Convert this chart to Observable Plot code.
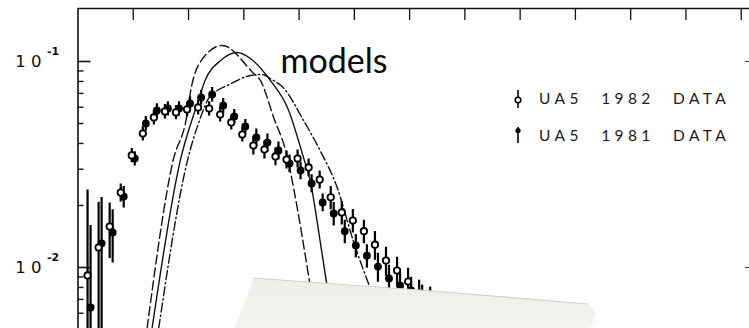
<!DOCTYPE html>
<html><head><meta charset="utf-8">
<script src="https://cdn.jsdelivr.net/npm/d3@7"></script>
<script src="https://cdn.jsdelivr.net/npm/@observablehq/plot@0.6"></script>
<style>
html,body{margin:0;padding:0;background:#fff;}
#wrap{position:relative;width:749px;height:328px;overflow:hidden;background:#fff;}
#wrap svg.plot{position:absolute;left:0;top:0;}
.lbl10{letter-spacing:0.32em;}
#legend{position:absolute;left:510px;top:88px;font-family:Lato,"Open Sans",sans-serif;font-weight:400;font-size:15.5px;color:#1a1a1a;}
#legend .row{position:absolute;left:0;white-space:nowrap;height:22px;}
#legend .row span{position:absolute;left:29px;top:1px;letter-spacing:4.4px;word-spacing:10px;}
#legend svg{position:absolute;left:0;top:0;}
#paper{position:absolute;left:0;top:0;}
</style></head><body>
<div id="wrap"></div>
<script>
// ---- data (charged multiplicity n, probability) ----
const nValues = [2,4,6,8,10,12,14,16,18,20,22,24,26,28,30,32,34,36,38,40,42,44,46,48,50,52,54,56,58,60,62,64];
const ua5_1982 = [0.00915,0.0125,0.0158,0.0231,0.0350,0.0447,0.0535,0.0572,0.0566,0.0585,0.0598,0.0591,0.0553,0.0506,0.0442,0.0391,0.0374,0.0346,0.0334,0.0338,0.0306,0.0267,0.0219,0.0185,0.0169,0.0150,0.0129,0.0108,0.00967,0.00855,0.00748,0.00692];
const ua5_1981 = [0.00639,0.0131,0.0148,0.0221,0.0338,0.0500,0.0578,0.0591,0.0591,0.0625,0.0669,0.0692,0.0612,0.0541,0.0484,0.0428,0.0404,0.0370,0.0320,0.0296,0.0256,0.0207,0.0183,0.0150,0.0128,0.0114,0.0101,0.00884,0.00818,0.00773,0.00708,0.00655];
const relErr1982 = [1.6,0.66,0.3,0.1,0.08,0.08,0.08,0.08,0.08,0.08,0.08,0.08,0.08,0.08,0.08,0.1,0.1,0.1,0.1,0.1,0.1,0.1,0.13,0.13,0.13,0.13,0.16,0.16,0.16,0.16,0.16,0.16];
const relErr1981 = [1.5,0.67,0.29,0.12,0.08,0.08,0.08,0.08,0.08,0.08,0.08,0.08,0.08,0.08,0.08,0.1,0.1,0.1,0.1,0.1,0.1,0.1,0.13,0.13,0.13,0.13,0.16,0.16,0.16,0.16,0.16,0.16];

// model curves
const dashedN = [12.5,17.2,19.7,20.3,22.3,26.1,31.6,33.0,35.4,37.9,39.0,42.0];
const dashedP = [0.00506,0.0330,0.0547,0.0699,0.101,0.1196,0.0885,0.0809,0.0535,0.0342,0.0244,0.00818];
const solidN  = [13.4,18.5,21.6,23.0,25.8,28.8,31.2,34.8,37.9,40.8,42.0,43.8,45.1];
const solidP  = [0.00506,0.0330,0.0625,0.0809,0.1011,0.1106,0.1034,0.0809,0.0598,0.0342,0.0265,0.0135,0.0080];
const dashDotN = [14.6,19.8,22.1,23.6,25.2,27.0,31.2,33.4,34.8,37.1,40.8,43.8,46.9,49.8,52.9];
const dashDotP = [0.00506,0.0330,0.0528,0.0661,0.0723,0.0764,0.0855,0.0865,0.0826,0.0748,0.0518,0.0370,0.0244,0.0135,0.0079];

// axes
const xTicks = [10,20,30,40,50,60,70,80,90,100,110,120];
const yMajor = [0.1,0.01];
const yMajorBase = ["10","10"];
const yMajorExp = ["-1","-2"];
const yMinor = [0.09,0.08,0.07,0.06,0.05,0.04,0.03,0.02,0.009,0.008,0.007,0.006,0.005];
const legendLabels = ["UA5 1982 DATA","UA5 1981 DATA"];
const annotation = "models";

// ---- build ----
const W = 749, H = 328, mL = 77.5, mT = 8;
const xDomain = [0, 121.5];
const yDomain = [0.005057, 0.1808];
const pxPerUnit = (W - mL) / (xDomain[1] - xDomain[0]);
const pxPerDecade = (H - mT) / Math.log10(yDomain[1] / yDomain[0]);

const pts = (vals, errs) => nValues.map((n, i) => ({
  n, p: vals[i],
  lo: Math.max(vals[i] * (1 - errs[i]), 1e-4),
  hi: vals[i] * (1 + errs[i])
}));
const d82 = pts(ua5_1982, relErr1982);
const d81 = pts(ua5_1981, relErr1981);
const curve = (N, P) => N.map((n, i) => ({n, p: P[i]}));

const chart = Plot.plot({
  width: W, height: H,
  marginLeft: mL, marginTop: mT, marginRight: 0, marginBottom: 0,
  x: {domain: xDomain, axis: null},
  y: {type: "log", domain: yDomain, axis: null},
  style: {background: "transparent", overflow: "visible"},
  marks: [
    Plot.ruleY([yDomain[1]], {stroke: "#111", strokeWidth: 1.6}),
    Plot.ruleX([0], {stroke: "#111", strokeWidth: 1.6}),
    Plot.ruleX(xTicks, {x: d => d, y1: yDomain[1], y2: yDomain[1] / 10 ** (12 / pxPerDecade), stroke: "#111", strokeWidth: 1.3}),
    Plot.ruleY(yMajor, {y: d => d, x1: 0, x2: 13 / pxPerUnit, stroke: "#111", strokeWidth: 1.6}),
    Plot.ruleY(yMinor, {y: d => d, x1: 0, x2: 6 / pxPerUnit, stroke: "#111", strokeWidth: 1.4}),
    Plot.ruleY(yMajor, {y: d => d, x1: xDomain[1] - 4 / pxPerUnit, x2: xDomain[1], stroke: "#333", strokeWidth: 1}),
    Plot.text(yMajor, {x: 0, y: d => d, text: (d, i) => yMajorBase[i], dx: -47, textAnchor: "middle", fontSize: 16.5, fontFamily: "DejaVu Sans, sans-serif", fill: "#111", className: "lbl10"}),
    Plot.text(yMajor, {x: 0, y: d => d, text: (d, i) => yMajorExp[i], dx: -25, dy: -10, textAnchor: "middle", fontSize: 11, fontFamily: "DejaVu Sans, sans-serif", fill: "#111", fontWeight: "bold"}),
    Plot.line(curve(dashedN, dashedP), {x: "n", y: "p", curve: "monotone-x", stroke: "#111", strokeWidth: 1.4, strokeDasharray: "9,4", clip: true}),
    Plot.line(curve(solidN, solidP), {x: "n", y: "p", curve: "monotone-x", stroke: "#111", strokeWidth: 1.4, clip: true}),
    Plot.line(curve(dashDotN, dashDotP), {x: "n", y: "p", curve: "monotone-x", stroke: "#111", strokeWidth: 1.4, strokeDasharray: "9,3,1.5,3", clip: true}),
    Plot.ruleX(d81, {x: "n", y1: "lo", y2: "hi", dx: 1.5, stroke: "#000", strokeWidth: 2.2, clip: true}),
    Plot.ruleX(d82, {x: "n", y1: "lo", y2: "hi", dx: -1.5, stroke: "#000", strokeWidth: 2.2, clip: true}),
    Plot.dot(d81, {x: "n", y: "p", dx: 1.5, r: 3.2, fill: "#000", stroke: "#000", clip: true}),
    Plot.dot(d82, {x: "n", y: "p", dx: -1.5, r: 3.2, fill: "#fff", stroke: "#000", strokeWidth: 1.8, clip: true}),
    Plot.text([annotation], {frameAnchor: "top-left", dx: 280 - mL, dy: 72 - mT, text: d => d, textAnchor: "start", lineAnchor: "bottom", fontSize: 34, fontFamily: "Lato, 'Open Sans', sans-serif", fill: "#0a0a0a"})
  ]
});
chart.classList.add("plot");
const wrap = document.getElementById("wrap");
wrap.appendChild(chart);

// legend
const legend = document.createElement("div");
legend.id = "legend";
legendLabels.forEach((lab, i) => {
  const row = document.createElement("div");
  row.className = "row";
  row.style.top = (i * 37) + "px";
  const filled = i === 1;
  row.innerHTML = `<svg width="20" height="22">` +
    (filled
      ? `<line x1="8" x2="8" y1="2" y2="18" stroke="#000" stroke-width="1.6"/><circle cx="8" cy="5.5" r="2.6" fill="#000"/>`
      : `<line x1="8" x2="8" y1="2" y2="20" stroke="#000" stroke-width="1.6"/><circle cx="8" cy="12" r="2.8" fill="#fff" stroke="#000" stroke-width="1.5"/>`) +
    `</svg><span>${lab}</span>`;
  legend.appendChild(row);
});
wrap.appendChild(legend);

// paper scrap covering the lower part
const paper = document.createElementNS("http://www.w3.org/2000/svg", "svg");
paper.setAttribute("id", "paper");
paper.setAttribute("width", W);
paper.setAttribute("height", H);
paper.innerHTML = `<defs><linearGradient id="pg" x1="0" y1="0" x2="0" y2="1">
<stop offset="0" stop-color="#efeeea"/><stop offset="1" stop-color="#f3f2ee"/></linearGradient>
<filter id="soft" x="-5%" y="-20%" width="110%" height="140%"><feGaussianBlur stdDeviation="0.6"/></filter></defs>
<polygon points="253,278 420,290 588,304 596,313 590,330 234,330 244,304 249,292" fill="url(#pg)" filter="url(#soft)"/>
<polyline points="253,278 420,290 588,304" fill="none" stroke="#d2d1cc" stroke-width="1.2" filter="url(#soft)"/>`;
wrap.appendChild(paper);
</script>
</body></html>
